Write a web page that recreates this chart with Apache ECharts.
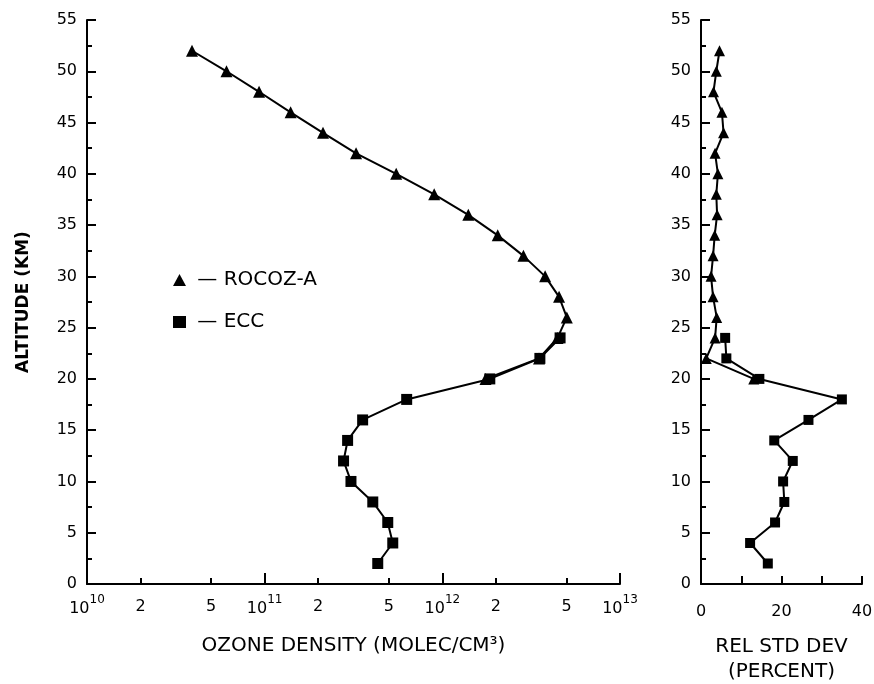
<!DOCTYPE html>
<html>
<head>
    <meta charset="utf-8">
    <title>Ozone profile</title>
    <script src="https://cdn.jsdelivr.net/npm/echarts@6/dist/echarts.min.js"></script>
    <style>
        html, body { margin: 0; background: #fff; }
        #chart { width: 874px; height: 684px; }
    </style>
</head>
<body>
<div id="chart"></div>
<script type="text/javascript">
    // ---- data ----
    var rocozAlt = [52, 50, 48, 46, 44, 42, 40, 38, 36, 34, 32, 30, 28, 26, 24, 22, 20];
    var rocozDensity = [3.9e10, 6.1e10, 9.3e10, 1.4e11, 2.13e11, 3.27e11, 5.5e11, 9.0e11, 1.4e12, 2.05e12,
        2.86e12, 3.79e12, 4.54e12, 5.02e12, 4.45e12, 3.5e12, 1.75e12];
    var eccAlt = [24, 22, 20, 18, 16, 14, 12, 10, 8, 6, 4, 2];
    var eccDensity = [4.6e12, 3.54e12, 1.85e12, 6.3e11, 3.56e11, 2.93e11, 2.78e11, 3.06e11, 4.06e11, 4.93e11, 5.26e11, 4.33e11];

    var rocozDev = [4.6, 3.8, 3.1, 5.2, 5.6, 3.5, 4.2, 3.8, 4.0, 3.4, 3.0, 2.5, 3.0, 3.9, 3.5, 1.3, 13.1];
    var eccDev = [6.0, 6.3, 14.5, 35.0, 26.7, 18.2, 22.8, 20.4, 20.7, 18.4, 12.2, 16.6];

    var minorTickPos = [10.301, 10.699, 11.301, 11.699, 12.301, 12.699];  // log10 of 2 and 5 in each decade
    var devLabels = [0, 20, 40];

    var font = 'DejaVu Sans, Verdana, sans-serif';

    function pairs(xs, ys) {
        return xs.map(function (x, i) { return [x, ys[i]]; });
    }

    var lineBase = {
        type: 'line',
        color: '#000',
        lineStyle: { color: '#000', width: 2 },
        itemStyle: { color: '#000' },
        showSymbol: true,
        z: 5
    };

    function yAxisOf(grid) {
        return {
            type: 'value', gridIndex: grid, min: 0, max: 55, interval: 5,
            axisLine: { show: true, onZero: false, lineStyle: { color: '#000', width: 2 } },
            axisTick: { show: true, inside: true, length: 9, lineStyle: { color: '#000', width: 2 } },
            minorTick: { show: true, splitNumber: 2, length: 5, lineStyle: { color: '#000', width: 2 } },
            axisLabel: { color: '#000', fontFamily: font, fontSize: 16, margin: 10 },
            splitLine: { show: false }
        };
    }

    var myChart = echarts.init(document.getElementById('chart'));
    var leftY = yAxisOf(0);
    leftY.name = 'ALTITUDE (KM)';
    leftY.nameLocation = 'middle';
    leftY.nameGap = 55;
    leftY.nameTextStyle = { color: '#000', fontFamily: font, fontSize: 17, fontWeight: 'bold' };

    myChart.setOption({
        animation: false,
        backgroundColor: '#fff',
        grid: [
            { left: 87, top: 20, width: 533, height: 564, outerBoundsMode: 'none' },
            { left: 701, top: 20, width: 161, height: 564, outerBoundsMode: 'none' }
        ],
        legend: {
            orient: 'vertical',
            left: 168,
            top: 265,
            itemWidth: 13,
            itemHeight: 12,
            itemGap: 22,
            textStyle: { color: '#000', fontFamily: font, fontSize: 20 },
            formatter: function (name) { return ' \u2014 ' + name; },
            data: [
                { name: 'ROCOZ-A', icon: 'triangle' },
                { name: 'ECC', icon: 'rect' }
            ]
        },
        xAxis: [
            {
                type: 'log', gridIndex: 0, min: 1e10, max: 1e13, logBase: 10,
                axisLine: { show: true, onZero: false, lineStyle: { color: '#000', width: 2 } },
                axisTick: { show: true, inside: true, length: 11, lineStyle: { color: '#000', width: 2 } },
                axisLabel: {
                    color: '#000', fontFamily: font, fontSize: 16, margin: 10,
                    formatter: function (v) {
                        return '{b|10}{s|' + Math.round(Math.log10(v)) + '}';
                    },
                    rich: {
                        b: { fontFamily: font, fontSize: 16, color: '#000', lineHeight: 23, verticalAlign: 'bottom' },
                        s: { fontFamily: font, fontSize: 12, color: '#000', lineHeight: 13, verticalAlign: 'top' }
                    }
                },
                splitLine: { show: false },
                name: 'OZONE DENSITY (MOLEC/CM\u00B3)',
                nameLocation: 'middle',
                nameGap: 52,
                nameTextStyle: { color: '#000', fontFamily: font, fontSize: 20 }
            },
            {
                type: 'value', gridIndex: 0, min: 10, max: 13, position: 'bottom',
                axisLine: { show: false, onZero: false },
                axisTick: { show: true, inside: true, length: 6, customValues: minorTickPos, lineStyle: { color: '#000', width: 2 } },
                axisLabel: {
                    color: '#000', fontFamily: font, fontSize: 16, margin: 15,
                    customValues: minorTickPos,
                    formatter: function (v) { return String(Math.round(Math.pow(10, v - Math.floor(v)))); }
                },
                splitLine: { show: false }
            },
            {
                type: 'value', gridIndex: 1, min: 0, max: 40, interval: 10,
                axisLine: { show: true, onZero: false, lineStyle: { color: '#000', width: 2 } },
                axisTick: { show: true, inside: true, length: 8, lineStyle: { color: '#000', width: 2 } },
                axisLabel: {
                    color: '#000', fontFamily: font, fontSize: 16, margin: 20,
                    customValues: devLabels
                },
                splitLine: { show: false },
                name: 'REL STD DEV\n(PERCENT)',
                nameLocation: 'middle',
                nameGap: 50,
                nameTextStyle: { color: '#000', fontFamily: font, fontSize: 20, lineHeight: 25 }
            }
        ],
        yAxis: [leftY, yAxisOf(1)],
        series: [
            Object.assign({}, lineBase, {
                name: 'ROCOZ-A', xAxisIndex: 0, yAxisIndex: 0,
                symbol: 'triangle', symbolSize: 12,
                data: pairs(rocozDensity, rocozAlt)
            }),
            Object.assign({}, lineBase, {
                name: 'ECC', xAxisIndex: 0, yAxisIndex: 0,
                symbol: 'rect', symbolSize: 11,
                data: pairs(eccDensity, eccAlt)
            }),
            Object.assign({}, lineBase, {
                name: 'ROCOZ-A', xAxisIndex: 2, yAxisIndex: 1,
                symbol: 'triangle', symbolSize: 11,
                data: pairs(rocozDev, rocozAlt)
            }),
            Object.assign({}, lineBase, {
                name: 'ECC', xAxisIndex: 2, yAxisIndex: 1,
                symbol: 'rect', symbolSize: 10,
                data: pairs(eccDev, eccAlt)
            })
        ]
    });
</script>
</body>
</html>
